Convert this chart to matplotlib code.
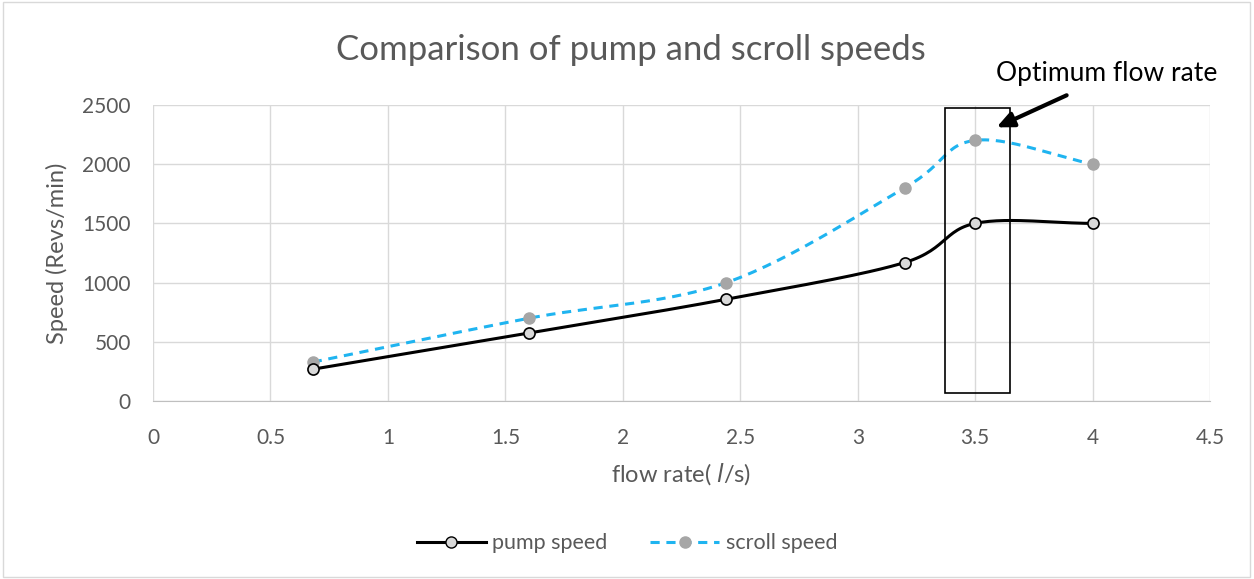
import numpy as np
import matplotlib.pyplot as plt
from matplotlib.patches import Rectangle

# data
flow_rate = [0.68, 1.60, 2.44, 3.20, 3.50, 4.00]
pump_speed = [270, 575, 860, 1170, 1500, 1500]
scroll_speed = [330, 700, 1000, 1800, 2200, 2000]

x_ticks = [0, 0.5, 1, 1.5, 2, 2.5, 3, 3.5, 4, 4.5]
y_ticks = [0, 500, 1000, 1500, 2000, 2500]


def smooth(xs, ys, n=30):
    # catmull-rom style curve through the points, like excel's smoothed line
    xs = np.asarray(xs, float)
    ys = np.asarray(ys, float)
    px = np.concatenate([[2 * xs[0] - xs[1]], xs, [2 * xs[-1] - xs[-2]]])
    py = np.concatenate([[2 * ys[0] - ys[1]], ys, [2 * ys[-1] - ys[-2]]])
    outx, outy = [], []
    t = np.linspace(0, 1, n)
    for i in range(1, len(px) - 2):
        p0, p1, p2, p3 = [np.array([px[j], py[j]]) for j in range(i - 1, i + 3)]
        c1 = p1 + (p2 - p0) / 6
        c2 = p2 - (p3 - p1) / 6
        seg = ((1 - t) ** 3)[:, None] * p1 + (3 * (1 - t) ** 2 * t)[:, None] * c1 \
            + (3 * (1 - t) * t ** 2)[:, None] * c2 + (t ** 3)[:, None] * p2
        outx.extend(seg[:, 0])
        outy.extend(seg[:, 1])
    return outx, outy


plt.rcParams['font.family'] = ['Lato', 'DejaVu Sans']
grey = '#595959'

fig = plt.figure(figsize=(12.54, 5.79), dpi=100)
fig.patches.append(Rectangle((0.002, 0.004), 0.995, 0.992, transform=fig.transFigure,
                             fill=False, edgecolor='#d9d9d9', linewidth=1))
ax = fig.add_axes([0.122, 0.307, 0.843, 0.512])

sx, sy = smooth(flow_rate, scroll_speed)
ax.plot(sx, sy, color='#1fb4f0', linewidth=2.2, linestyle=(0, (3, 2.2)), zorder=3)
ax.plot(flow_rate, scroll_speed, linestyle='none', marker='o', markersize=8,
        markerfacecolor='#a6a6a6', markeredgecolor='#a6a6a6', zorder=4)

px, py = smooth(flow_rate, pump_speed)
ax.plot(px, py, color='black', linewidth=2.2, zorder=5)
ax.plot(flow_rate, pump_speed, linestyle='none', marker='o', markersize=8,
        markerfacecolor='#d9d9d9', markeredgecolor='black', markeredgewidth=1.2, zorder=6)

# legend handles
ax.plot([], [], color='black', linewidth=2.2, marker='o', markersize=8,
        markerfacecolor='#d9d9d9', markeredgecolor='black', label='pump speed')
ax.plot([], [], color='#1fb4f0', linewidth=2.2, linestyle=(0, (3, 2.2)), marker='o',
        markersize=8, markerfacecolor='#a6a6a6', markeredgecolor='#a6a6a6', label='scroll speed')

ax.set_xlim(0, 4.5)
ax.set_ylim(0, 2500)
ax.set_xticks(x_ticks)
ax.set_xticklabels([f'{v:g}' for v in x_ticks])
ax.set_yticks(y_ticks)
ax.grid(True, color='#d9d9d9', linewidth=1)
ax.set_axisbelow(True)
for s in ['top', 'right', 'left']:
    ax.spines[s].set_visible(False)
ax.spines['bottom'].set_color('#bfbfbf')
ax.tick_params(length=0, labelsize=15, colors=grey)
ax.tick_params(axis='x', pad=19)
ax.tick_params(axis='y', pad=16)

fig.suptitle('Comparison of pump and scroll speeds', fontsize=25, color=grey,
             x=0.503, y=0.913, va='center')
ax.set_ylabel('Speed (Revs/min)', fontsize=17, color=grey, labelpad=10)
ax.set_xlabel('flow rate( $\\it{l}$/s)', fontsize=17, color=grey, labelpad=10)

# optimum box + annotation
ax.add_patch(Rectangle((3.37, 70), 0.28, 2405, fill=False, edgecolor='black',
                       linewidth=1.2, zorder=7, clip_on=False))
ax.annotate('', xy=(3.58, 2300), xytext=(3.90, 2590),
            arrowprops=dict(arrowstyle='-|>,head_width=0.45,head_length=1.0',
                            color='black', linewidth=3),
            annotation_clip=False, zorder=8)
ax.text(4.06, 2762, 'Optimum flow rate', fontsize=19, color='black',
        ha='center', va='center', clip_on=False)

fig.legend(loc='center', bbox_to_anchor=(0.5, 0.062), ncol=2, frameon=False,
           fontsize=15.5, labelcolor=grey, handlelength=3.2, handletextpad=0.3,
           columnspacing=2.0)

fig.savefig('out.png', dpi=100)
